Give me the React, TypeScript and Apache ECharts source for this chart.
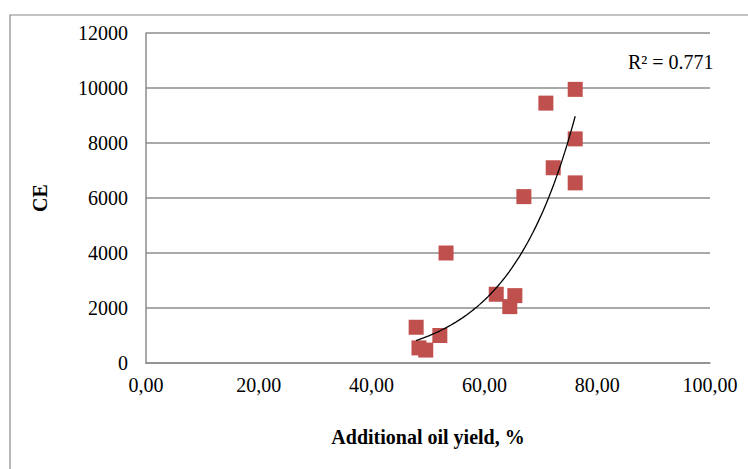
import React, { useEffect, useRef } from "react";
import * as echarts from "echarts";

const oilYield = [76.1, 70.9, 76.1, 72.2, 76.1, 67.0, 53.2, 62.1, 65.4, 64.5, 52.1, 47.9, 48.4, 49.6];
const ceValues = [9950, 9450, 8150, 7100, 6550, 6050, 4000, 2500, 2450, 2050, 1000, 1300, 550, 470];
const r2Label = "R² = 0.771";
const xTitle = "Additional oil yield, %";
const yTitle = "CE";

function expFit(xs: number[], ys: number[]) {
  const n = xs.length;
  const ly = ys.map((v) => Math.log(v));
  const mx = xs.reduce((a, b) => a + b, 0) / n;
  const my = ly.reduce((a, b) => a + b, 0) / n;
  let sxy = 0;
  let sxx = 0;
  for (let i = 0; i < n; i++) {
    sxy += (xs[i] - mx) * (ly[i] - my);
    sxx += (xs[i] - mx) * (xs[i] - mx);
  }
  const b = sxy / sxx;
  const lnA = my - b * mx;
  return { a: Math.exp(lnA), b };
}

export default function App() {
  const ref = useRef<HTMLDivElement>(null);
  useEffect(() => {
    if (!ref.current) return;
    const chart = echarts.init(ref.current, undefined, { renderer: "svg" });
    const { a, b } = expFit(oilYield, ceValues);
    const xmin = Math.min(...oilYield);
    const xmax = Math.max(...oilYield);
    const steps = 60;
    const trend: number[][] = [];
    for (let i = 0; i <= steps; i++) {
      const x = xmin + ((xmax - xmin) * i) / steps;
      trend.push([x, a * Math.exp(b * x)]);
    }
    const font = "'Liberation Serif', 'Times New Roman', serif";
    const gray = "#8c8c8c";
    chart.setOption({
      animation: false,
      backgroundColor: "#ffffff",
      textStyle: { fontFamily: font },
      grid: { left: 146, right: 38, top: 33, bottom: 106 },
      xAxis: {
        type: "value",
        min: 0,
        max: 100,
        interval: 20,
        axisLine: { show: true, lineStyle: { color: gray, width: 1.5 } },
        axisTick: { show: false },
        splitLine: { show: false },
        axisLabel: {
          margin: 12,
          color: "#000",
          fontSize: 20,
          fontFamily: font,
          formatter: (v: number) => v.toFixed(2).replace(".", ","),
        },
        name: xTitle,
        nameLocation: "middle",
        nameGap: 64,
        nameTextStyle: { color: "#000", fontSize: 20, fontWeight: "bold", fontFamily: font },
      },
      yAxis: {
        type: "value",
        min: 0,
        max: 12000,
        interval: 2000,
        axisLine: { show: true, lineStyle: { color: gray, width: 1.5 } },
        axisTick: { show: false },
        splitLine: { show: true, lineStyle: { color: gray, width: 1.5 } },
        axisLabel: {
          margin: 18,
          color: "#000",
          fontSize: 20,
          fontFamily: font,
          formatter: (v: number) => String(v),
        },
        name: yTitle,
        nameLocation: "middle",
        nameRotate: 90,
        nameGap: 96,
        nameTextStyle: { color: "#000", fontSize: 20, fontWeight: "bold", fontFamily: font },
      },
      graphic: [
        {
          type: "rect",
          shape: { x: 10, y: 15, width: 800, height: 500 },
          style: { fill: "none", stroke: "#8a8a8a", lineWidth: 1.2 },
          silent: true,
          z: -1,
        },
        {
          type: "text",
          x: 628,
          y: 62,
          style: {
            text: r2Label,
            fill: "#000",
            fontSize: 20,
            fontFamily: font,
            textVerticalAlign: "middle",
          },
        },
      ],
      series: [
        {
          type: "scatter",
          data: oilYield.map((x, i) => [x, ceValues[i]]),
          symbol: "rect",
          symbolSize: 15,
          itemStyle: { color: "#C0504D", opacity: 1 },
          z: 2,
        },
        {
          type: "line",
          data: trend,
          showSymbol: false,
          symbol: "none",
          lineStyle: { color: "#000", width: 1.3 },
          z: 3,
        },
      ],
    });
    return () => chart.dispose();
  }, []);
  return (
    <div
      ref={ref}
      style={{ position: "absolute", left: 0, top: 0, width: 748, height: 469 }}
    />
  );
}
